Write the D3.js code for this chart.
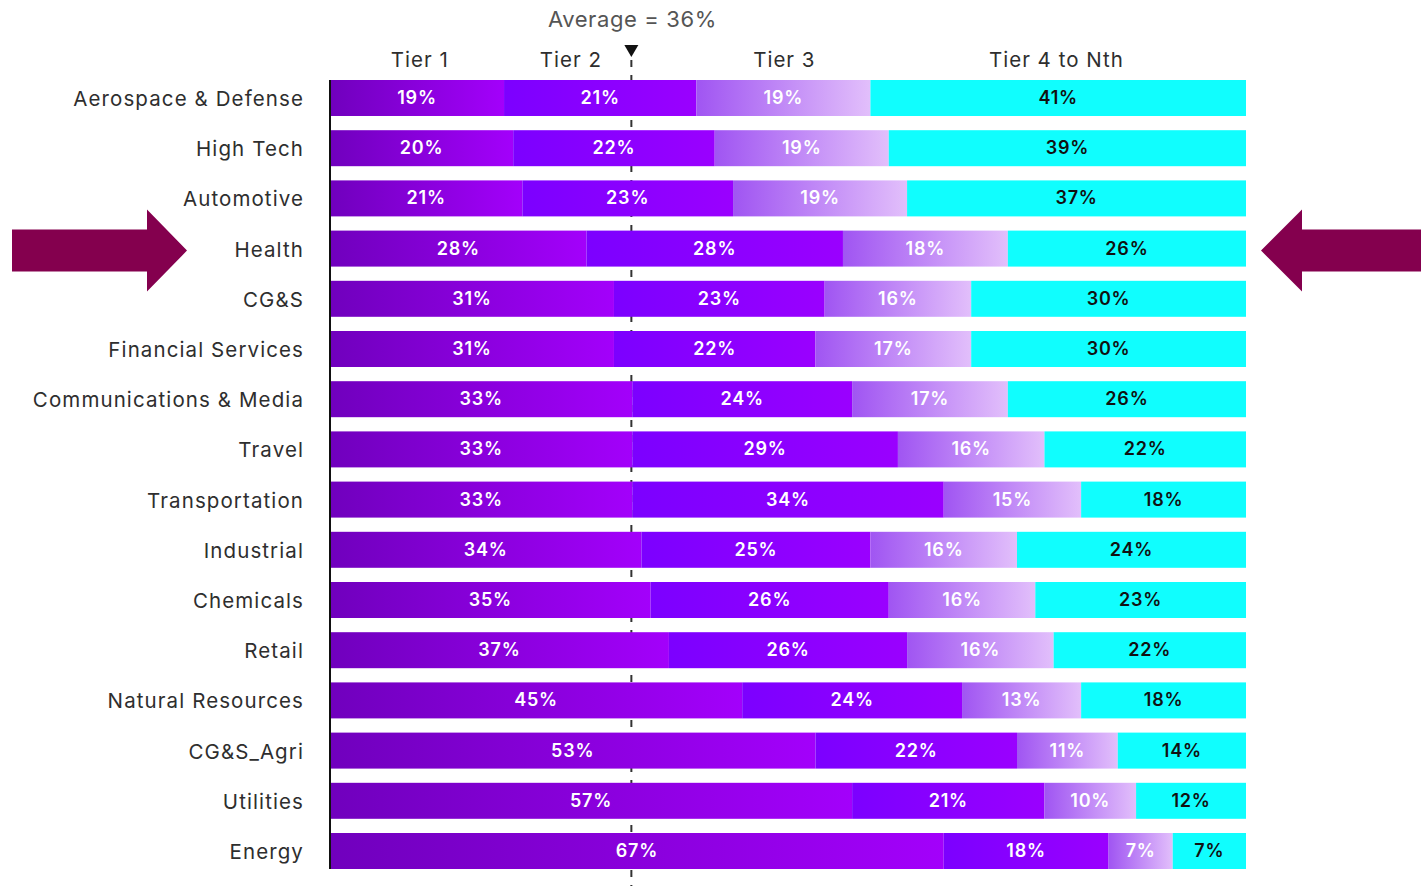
<!DOCTYPE html>
<html><head><meta charset="utf-8">
<script src="https://cdn.jsdelivr.net/npm/d3@7"></script>
<style>
html,body{margin:0;padding:0;background:#fff;}
svg{display:block;font-family:Inter, Roboto, "Noto Sans", sans-serif;}
</style></head>
<body>
<svg id="chart" width="1421" height="886"></svg>
<script>
const categories = ["Aerospace & Defense","High Tech","Automotive","Health","CG&S","Financial Services","Communications & Media","Travel","Transportation","Industrial","Chemicals","Retail","Natural Resources","CG&S_Agri","Utilities","Energy"];
const tier1 = [19,20,21,28,31,31,33,33,33,34,35,37,45,53,57,67];
const tier2 = [21,22,23,28,23,22,24,29,34,25,26,26,24,22,21,18];
const tier3 = [19,19,19,18,16,17,17,16,15,16,16,16,13,11,10,7];
const tier4 = [41,39,37,26,30,30,26,22,18,24,23,22,18,14,12,7];
const tierNames = ["Tier 1","Tier 2","Tier 3","Tier 4 to Nth"];
const tierHeaderAt = [9.8,26.3,49.6,79.3];
const averageLabel = "Average = 36%";
const averageMarkerAt = 32.9;
const highlighted = "Health";

const svg = d3.select("#chart");
const x = d3.scaleLinear().domain([0,100]).range([330,1246]);
const y = d3.scaleBand().domain(categories).range([80, 80+16*50.2-14.2]).paddingInner(0.283).paddingOuter(0);

const defs = svg.append("defs");
const grads = [
  ["g1","#7000bd","#a300fb"],
  ["g2","#7c00ff","#9a00ff"],
  ["g3","#a055f2","#e2bffb"],
];
grads.forEach(([id,a,b])=>{
  const g = defs.append("linearGradient").attr("id",id).attr("x1","0%").attr("x2","100%").attr("y1","0%").attr("y2","0%");
  g.append("stop").attr("offset","0%").attr("stop-color",a);
  g.append("stop").attr("offset","100%").attr("stop-color",b);
});
const fills = ["url(#g1)","url(#g2)","url(#g3)","#10fefe"];
const textColors = ["#fff","#fff","#fff","#111"];

// average dashed line (behind bars)
svg.append("line")
  .attr("x1",x(averageMarkerAt)).attr("x2",x(averageMarkerAt))
  .attr("y1",60).attr("y2",886)
  .attr("stroke","#333").attr("stroke-width",2).attr("stroke-dasharray","7,8");

const rows = categories.map((c,i)=>({cat:c, vals:[tier1[i],tier2[i],tier3[i],tier4[i]]}));
const rowG = svg.selectAll("g.row").data(rows).join("g").attr("class","row")
  .attr("transform",d=>`translate(0,${y(d.cat)})`);

rowG.each(function(d){
  const g = d3.select(this);
  let cum = 0;
  d.vals.forEach((v,k)=>{
    const x0 = x(cum);
    const x1 = k===3 ? x.range()[1] : x(cum+v);
    cum += v;
    g.append("rect").attr("x",x0).attr("y",0).attr("width",x1-x0).attr("height",y.bandwidth())
      .attr("fill",fills[k]);
    g.append("text").attr("x",(x0+x1)/2).attr("y",y.bandwidth()/2+6)
      .attr("text-anchor","middle").attr("font-size",18).attr("font-weight",600)
      .attr("letter-spacing",0.8)
      .attr("fill",textColors[k]).text(v+"%");
  });
});

// category labels
svg.selectAll("text.cat").data(categories).join("text").attr("class","cat")
  .attr("x",304).attr("y",d=>y(d)+y.bandwidth()/2+8)
  .attr("text-anchor","end").attr("font-size",20.5).attr("letter-spacing",1.1)
  .attr("fill","#2e2e2e").text(d=>d);

// left axis line
svg.append("line").attr("x1",x(0)).attr("x2",x(0)).attr("y1",y.range()[0]).attr("y2",y.range()[1])
  .attr("stroke","#111").attr("stroke-width",2);

// tier headers
svg.selectAll("text.tier").data(tierNames).join("text").attr("class","tier")
  .attr("x",(d,i)=>x(tierHeaderAt[i])).attr("y",67).attr("text-anchor","middle")
  .attr("font-size",20.5).attr("letter-spacing",1).attr("fill","#2e2e2e").text(d=>d);

// average label and triangle
svg.append("text").attr("x",x(averageMarkerAt)+1).attr("y",27).attr("text-anchor","middle")
  .attr("font-size",22).attr("letter-spacing",0.6).attr("fill","#555").text(averageLabel);
const ax = x(averageMarkerAt);
svg.append("path").attr("d",`M${ax-7},45 L${ax+7},45 L${ax},57 Z`).attr("fill","#111");

// highlight arrows
const cy = y(highlighted)+y.bandwidth()/2+2;
const arrowColor = "#84004e";
svg.append("path").attr("fill",arrowColor)
  .attr("d",`M12,${cy-21} L147,${cy-21} L147,${cy-41} L187,${cy} L147,${cy+41} L147,${cy+21} L12,${cy+21} Z`);
svg.append("path").attr("fill",arrowColor)
  .attr("d",`M1421,${cy-21} L1302,${cy-21} L1302,${cy-41} L1261,${cy} L1302,${cy+41} L1302,${cy+21} L1421,${cy+21} Z`);
</script>
</body></html>
